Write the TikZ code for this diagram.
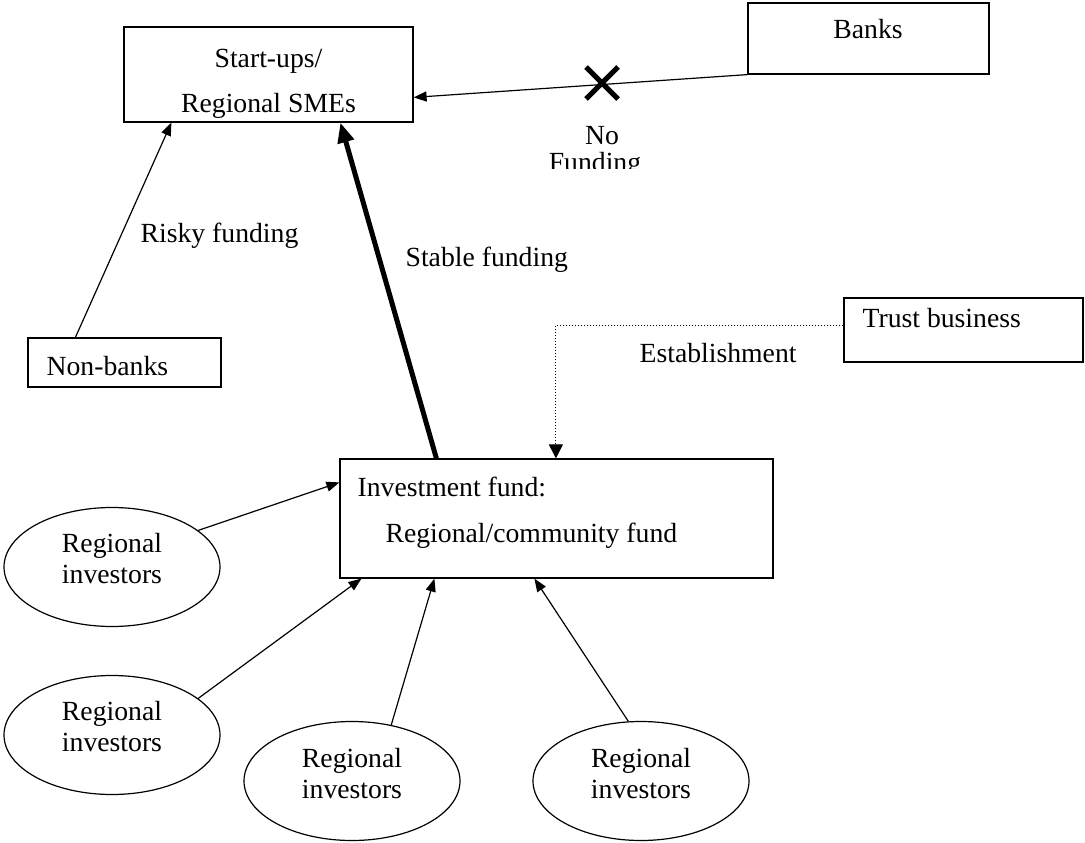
\documentclass[tikz,border=0pt]{standalone}
\usepackage{fontspec}
\setmainfont{Liberation Serif}
\usetikzlibrary{arrows.meta, calc, shapes.geometric, shapes.misc}

\begin{document}
\begin{tikzpicture}[x=1pt, y=-1pt, >={Triangle[length=13pt,width=10pt]}, line width=1.2pt,
    box/.style={draw, rectangle, inner sep=0pt},
    inv/.style={draw, ellipse, minimum width=216pt, minimum height=119pt, inner sep=0pt},
    txt/.style={anchor=base, inner sep=0pt, font=\fontsize{27.7}{32}\selectfont},
    ltxt/.style={txt, anchor=base west}]
        \useasboundingbox (0,0) rectangle (1085,843);
        % Start-ups / SMEs
        \node[box, minimum width=289pt, minimum height=95pt] (sme) at (268.5,74.5) {};
        \node[txt] (smeA) at (268.5,67) {Start-ups/};
        \node[txt] (smeB) at (268.5,112) {Regional SMEs};
        % Banks
        \node[box, minimum width=241pt, minimum height=71pt] (banks) at (868.5,38.5) {};
        \node[txt] (banksT) at (868,39) {Banks};
        % Non-banks
        \node[box, minimum width=193pt, minimum height=49pt] (nonbanks) at (124.5,362.5) {};
        \node[ltxt] (nonbanksT) at (46,375) {Non-banks};
        % Trust business
        \node[box, minimum width=239pt, minimum height=64pt] (trust) at (963.5,330) {};
        \node[ltxt] (trustT) at (862,327) {Trust business};
        % Investment fund
        \node[box, minimum width=433pt, minimum height=119pt] (fund) at (556.5,518.5) {};
        \node[ltxt] (fundA) at (357,496) {Investment fund:};
        \node[ltxt] (fundB) at (385,542) {Regional/community fund};
        % Banks -> SMEs, crossed out
        \draw[->] (banks.south west) -- ($(sme.north east)+(0,71)$);
        \node[cross out, draw, line width=5pt, minimum size=27pt, inner sep=0pt] (nofund) at (602,83) {};
        \node[txt] (noA) at (602,144) {No};
        \begin{scope}
            \clip (500,120) rectangle (700,168);
            \node[txt] (noB) at (595,171) {Funding};
        \end{scope}
        % Non-banks -> SMEs
        \draw[->] ($(nonbanks.north west)+(48,0)$) -- ($(sme.south west)+(48,0)$);
        \node[ltxt] (risky) at (140,242) {Risky funding};
        % Fund -> SMEs
        \draw[-{Triangle[length=20pt,width=16pt]}, line width=5pt] ($(fund.north west)+(97,0)$) -- ($(sme.south west)+(217,0)$);
        \node[ltxt] (stable) at (405,266) {Stable funding};
        % Trust business -> fund
        \draw[-{Triangle[length=14pt,width=14pt]}, dotted, line width=1pt] ($(trust.north west)+(0,28)$) -| ($(fund.north west)+(216.5,0)$);
        \node[ltxt] (estab) at (639,362) {Establishment};
        % Regional investors
        \node[inv] (inv1) at (112,567) {};
        \node[txt] (inv1a) at (112,552) {Regional};
        \node[txt] (inv1b) at (112,583) {investors};
        \node[inv] (inv2) at (112,735) {};
        \node[txt] (inv2a) at (112,720) {Regional};
        \node[txt] (inv2b) at (112,751) {investors};
        \node[inv] (inv3) at (352,781) {};
        \node[txt] (inv3a) at (352,767) {Regional};
        \node[txt] (inv3b) at (352,798) {investors};
        \node[inv] (inv4) at (641,781) {};
        \node[txt] (inv4a) at (641,767) {Regional};
        \node[txt] (inv4b) at (641,798) {investors};
        \draw[->] (inv1.23) -- ($(fund.north west)+(0,24)$);
        \draw[->] (inv2.23) -- ($(fund.south west)+(22,0)$);
        \draw[->] (inv3.55) -- ($(fund.south west)+(95,0)$);
        \draw[->] (inv4.102) -- ($(fund.south west)+(195,0)$);
\end{tikzpicture}
\end{document}
